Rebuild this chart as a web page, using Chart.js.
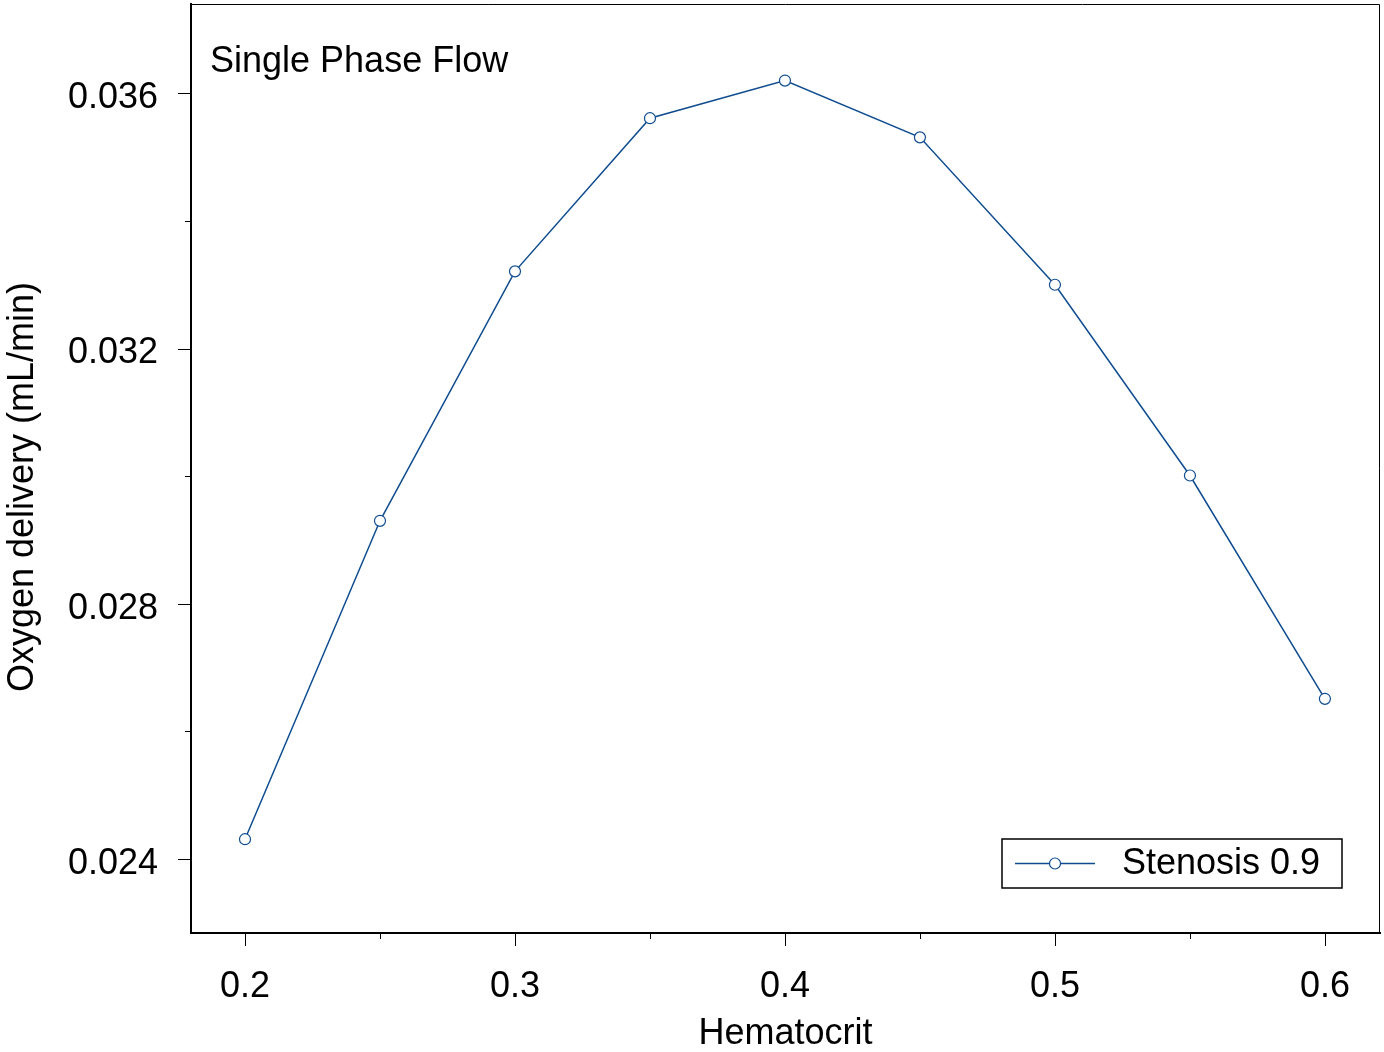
<!DOCTYPE html>
<html>
<head>
<meta charset="utf-8">
<title>Single Phase Flow</title>
<script src="https://cdn.jsdelivr.net/npm/chart.js@4.4.1/dist/chart.umd.min.js"></script>
<style>
  html,body{margin:0;padding:0;background:#fff;}
  #wrap{width:1384px;height:1052px;}
</style>
</head>
<body>
<div id="wrap"><canvas id="chart" width="1384" height="1052"></canvas></div>
<script>
'use strict';

/* ── data ── */
const hematocrit=[0.2,0.25,0.3,0.35,0.4,0.45,0.5,0.55,0.6];
const o2Delivery=[0.02431,0.02930,0.03321,0.03561,0.03620,0.03531,0.03300,0.03001,0.02651];
const seriesName='Stenosis 0.9';
const panelTitle='Single Phase Flow';
const xTitle='Hematocrit';
const yTitle='Oxygen delivery (mL/min)';

/* tick positions: all marks, and the ones that carry a label */
const xTicks=[0.2,0.25,0.3,0.35,0.4,0.45,0.5,0.55,0.6];
const xLabels=[0.2,0.3,0.4,0.5,0.6];
const yTicks=[0.024,0.026,0.028,0.030,0.032,0.034,0.036];
const yLabels=[0.024,0.028,0.032,0.036];

const FONT='"Liberation Sans", Arial, Helvetica, sans-serif';
const BLUE='#0F4C8F';

// no extra room reserved for half-labels at the axis ends
function noPad(s){s.paddingTop=0;s.paddingBottom=0;s.paddingLeft=0;s.paddingRight=0;}

// tick marks + frame + texts + legend box
const decor={
  id:'decor',
  afterDraw(chart){
    const {ctx,chartArea:a,scales:{x,y}}=chart;
    ctx.save();
    ctx.strokeStyle='#000';
    ctx.lineWidth=1;
    // x ticks
    xTicks.forEach(v=>{
      const px=Math.round(x.getPixelForValue(v))+0.5;
      const len=xLabels.includes(v)?13:6;
      ctx.beginPath();ctx.moveTo(px,a.bottom);ctx.lineTo(px,a.bottom+len);ctx.stroke();
    });
    // y ticks
    yTicks.forEach(v=>{
      const py=Math.round(y.getPixelForValue(v))+0.5;
      const len=yLabels.includes(v)?13:6;
      ctx.beginPath();ctx.moveTo(a.left,py);ctx.lineTo(a.left-len,py);ctx.stroke();
    });
    // thin top / right frame
    ctx.beginPath();
    ctx.moveTo(a.left,a.top+0.5);ctx.lineTo(a.right-0.5,a.top+0.5);ctx.lineTo(a.right-0.5,a.bottom);
    ctx.stroke();

    // texts
    ctx.fillStyle='#000';
    ctx.font='36px '+FONT;
    ctx.textBaseline='middle';
    ctx.textAlign='left';
    ctx.fillText(panelTitle,210,62);
    ctx.textAlign='center';
    ctx.fillText(xTitle,(a.left+a.right)/2,1034);
    ctx.save();
    ctx.translate(23,487);
    ctx.rotate(-Math.PI/2);
    ctx.fillText(yTitle,0,0);
    ctx.restore();

    // legend
    const lx=1002,ly=839,lw=340,lh=49;
    ctx.lineWidth=1.5;
    ctx.strokeRect(lx,ly,lw,lh);
    const cy=ly+lh/2;
    ctx.strokeStyle=BLUE;ctx.lineWidth=1.5;
    ctx.beginPath();ctx.moveTo(lx+13,cy);ctx.lineTo(lx+93,cy);ctx.stroke();
    ctx.beginPath();ctx.arc(lx+53,cy,5.5,0,Math.PI*2);
    ctx.fillStyle='#fff';ctx.fill();ctx.lineWidth=1.2;ctx.stroke();
    ctx.fillStyle='#000';ctx.textAlign='left';
    ctx.fillText(seriesName,lx+120,cy+1);
    ctx.restore();
  }
};

new Chart(document.getElementById('chart'),{
  type:'line',
  data:{
    datasets:[{
      label:seriesName,
      data:hematocrit.map((h,i)=>({x:h,y:o2Delivery[i]})),
      borderColor:BLUE,
      borderWidth:1.5,
      backgroundColor:'#fff',
      pointBackgroundColor:'#fff',
      pointBorderColor:BLUE,
      pointBorderWidth:1.2,
      pointRadius:5.5,
      tension:0,
      fill:false
    }]
  },
  options:{
    responsive:false,
    animation:false,
    devicePixelRatio:1,
    layout:{autoPadding:false,padding:{top:4,right:4,left:0,bottom:0}},
    plugins:{legend:{display:false},tooltip:{enabled:false}},
    scales:{
      x:{
        type:'linear',
        min:0.18,max:0.6204,
        afterBuildTicks(s){s.ticks=xTicks.map(v=>({value:v}));},
        afterFit(s){s.height=119;noPad(s);},
        grid:{display:false,drawTicks:false},
        border:{display:true,width:2,color:'#000'},
        ticks:{
          autoSkip:false,maxRotation:0,padding:32,color:'#000',
          font:{family:FONT,size:36},
          callback:v=>xLabels.includes(v)?v.toFixed(1):''
        }
      },
      y:{
        type:'linear',
        min:0.02284,max:0.0374,
        afterBuildTicks(s){s.ticks=yTicks.map(v=>({value:v}));},
        afterFit(s){s.width=191;noPad(s);},
        grid:{display:false,drawTicks:false},
        border:{display:true,width:2,color:'#000'},
        ticks:{
          autoSkip:false,padding:33,labelOffset:5,color:'#000',
          font:{family:FONT,size:36},
          callback:v=>yLabels.includes(v)?v.toFixed(3):''
        }
      }
    }
  },
  plugins:[decor]
});
</script>
</body>
</html>
